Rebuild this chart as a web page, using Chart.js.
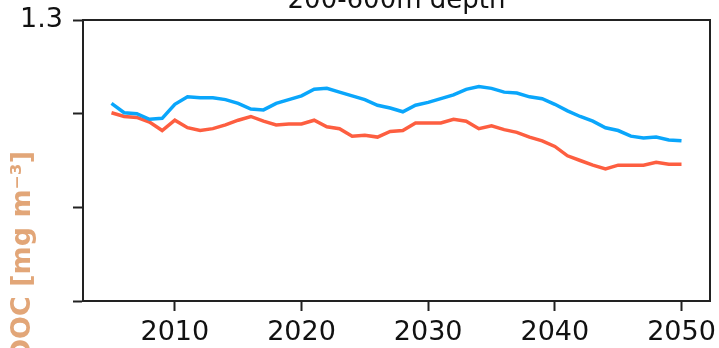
<!DOCTYPE html>
<html>
<head>
<meta charset="utf-8">
<script src="https://cdn.jsdelivr.net/npm/chart.js@4"></script>
<style>
  html, body { margin: 0; padding: 0; background: #fff; overflow: hidden; }
  #wrap { position: relative; width: 719px; height: 348px; }
</style>
</head>
<body>
<div id="wrap"><canvas id="c" width="719" height="348"></canvas></div>
<script>
// Annual DOC means, 200-600 m layer
const years = [2005, 2006, 2007, 2008, 2009, 2010, 2011, 2012, 2013, 2014,
               2015, 2016, 2017, 2018, 2019, 2020, 2021, 2022, 2023, 2024,
               2025, 2026, 2027, 2028, 2029, 2030, 2031, 2032, 2033, 2034,
               2035, 2036, 2037, 2038, 2039, 2040, 2041, 2042, 2043, 2044,
               2045, 2046, 2047, 2048, 2049, 2050];
const docBlue = [1.211, 1.201, 1.200, 1.194, 1.195, 1.210, 1.218, 1.217, 1.217, 1.215,
                 1.211, 1.205, 1.204, 1.211, 1.215, 1.219, 1.226, 1.227, 1.223, 1.219,
                 1.215, 1.209, 1.206, 1.202, 1.209, 1.212, 1.216, 1.220, 1.226, 1.229,
                 1.227, 1.223, 1.222, 1.218, 1.216, 1.210, 1.203, 1.197, 1.192, 1.185,
                 1.182, 1.176, 1.174, 1.175, 1.172, 1.171];
const docRed = [1.201, 1.197, 1.196, 1.191, 1.182, 1.193, 1.185, 1.182, 1.184, 1.188,
                1.193, 1.197, 1.192, 1.188, 1.189, 1.189, 1.193, 1.186, 1.184, 1.176,
                1.177, 1.175, 1.181, 1.182, 1.190, 1.190, 1.190, 1.194, 1.192, 1.184,
                1.187, 1.183, 1.180, 1.175, 1.171, 1.165, 1.155, 1.150, 1.145, 1.141,
                1.145, 1.145, 1.145, 1.148, 1.146, 1.146];
const xTicks = [2010, 2020, 2030, 2040, 2050];
const yTicks = [1.0, 1.1, 1.2, 1.3];
const yTickLabels = ['', '', '', '1.3'];
const titleText = '200-600m depth';
const yLabelText = 'DOC [mg m\u207B\u00B3]';

const FONT = "'DejaVu Sans', sans-serif";

// Closed box around the plotting area plus the title and the axis label
const decorations = {
  id: 'decorations',
  afterDraw(chart) {
    const { ctx, chartArea: a } = chart;
    ctx.save();
    ctx.strokeStyle = '#222';
    ctx.lineWidth = 2;
    ctx.strokeRect(a.left, a.top, a.right - a.left, a.bottom - a.top);

    ctx.fillStyle = '#111';
    ctx.font = '26px ' + FONT;
    ctx.textAlign = 'center';
    ctx.textBaseline = 'alphabetic';
    ctx.fillText(titleText, (a.left + a.right) / 2, 8);

    ctx.translate(30, 151);
    ctx.rotate(-Math.PI / 2);
    ctx.fillStyle = '#e2a678';
    ctx.font = 'bold 27px ' + FONT;
    ctx.textAlign = 'right';
    ctx.fillText(yLabelText, 0, 0);
    ctx.restore();
  }
};

new Chart(document.getElementById('c'), {
  type: 'line',
  data: {
    datasets: [
      {
        data: years.map((y, i) => ({ x: y, y: docBlue[i] })),
        borderColor: '#0aa6fb',
        borderWidth: 3.5,
        pointRadius: 0,
        tension: 0,
        fill: false
      },
      {
        data: years.map((y, i) => ({ x: y, y: docRed[i] })),
        borderColor: '#fd5e40',
        borderWidth: 3.5,
        pointRadius: 0,
        tension: 0,
        fill: false
      }
    ]
  },
  options: {
    responsive: false,
    animation: false,
    devicePixelRatio: 1,
    layout: { padding: { top: 20, right: 9, left: 0, bottom: 0 } },
    plugins: {
      legend: { display: false },
      title: { display: false },
      tooltip: { enabled: false }
    },
    scales: {
      x: {
        type: 'linear',
        min: 2002.75,
        max: 2052.25,
        afterBuildTicks: s => { s.ticks = xTicks.map(v => ({ value: v })); },
        afterFit: s => { s.height = 47; s.paddingLeft = 0; s.paddingRight = 0; },
        ticks: {
          font: { family: FONT, size: 27 },
          color: '#111',
          padding: 6,
          maxRotation: 0,
          autoSkip: false,
          callback: v => String(v)
        },
        grid: { drawOnChartArea: false, tickLength: 10, tickWidth: 2, tickColor: '#222' },
        border: { color: '#222', width: 2 }
      },
      y: {
        min: 1.0,
        max: 1.3,
        afterBuildTicks: s => { s.ticks = yTicks.map(v => ({ value: v })); },
        afterFit: s => { s.width = 83; },
        ticks: {
          font: { family: FONT, size: 27, lineHeight: 0.5 },
          color: '#111',
          padding: 10,
          autoSkip: false,
          callback: (v, i) => yTickLabels[i]
        },
        grid: { drawOnChartArea: false, tickLength: 10, tickWidth: 2, tickColor: '#222' },
        border: { color: '#222', width: 2 }
      }
    }
  },
  plugins: [decorations]
});
</script>
</body>
</html>
